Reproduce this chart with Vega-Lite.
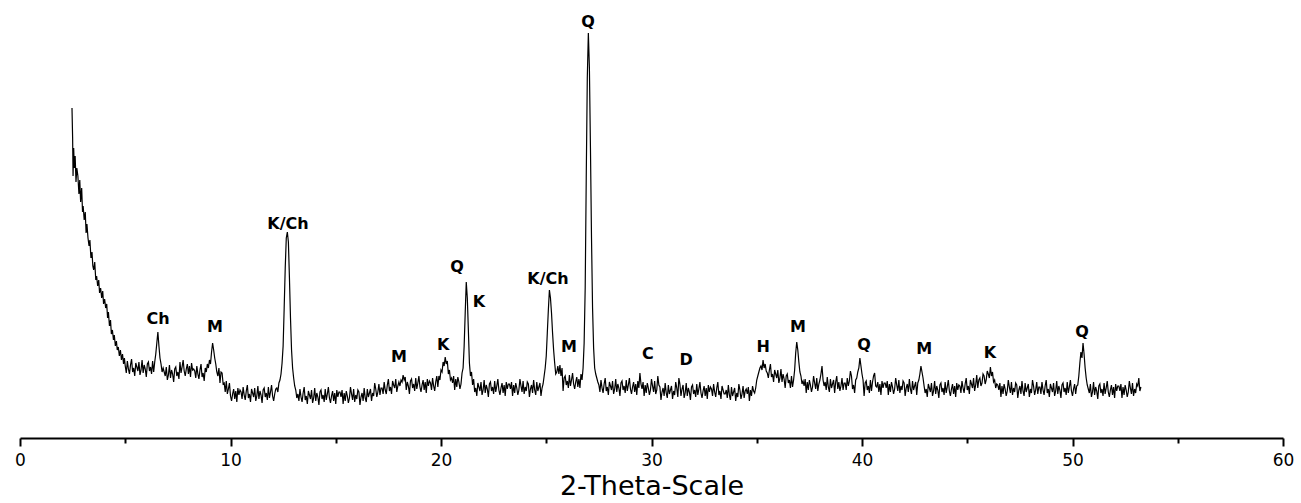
{
"$schema": "https://vega.github.io/schema/vega-lite/v6.json",
"width": 1263, "height": 438,
"autosize": {"type": "none"},
"padding": {"left": 20, "top": 0, "right": 18, "bottom": 65},
"background": "white",
"config": {"view": {"stroke": null}, "font": "DejaVu Sans"},
"datasets": {
"xrd": [
{"t":2.47,"i":330},{"t":2.5,"i":300},{"t":2.52,"i":262},{"t":2.55,"i":290},{"t":2.58,"i":270},{"t":2.62,"i":282},{"t":2.66,"i":256},{"t":2.7,"i":270},{"t":2.75,"i":262},{"t":2.8,"i":244},{"t":2.84,"i":258},{"t":2.88,"i":236},{"t":2.93,"i":250},{"t":2.97,"i":226},{"t":3.0,"i":232},{"t":3.05,"i":218},{"t":3.1,"i":226},{"t":3.14,"i":205},{"t":3.18,"i":214},{"t":3.23,"i":200},{"t":3.28,"i":192},{"t":3.32,"i":198},{"t":3.37,"i":180},{"t":3.42,"i":186},{"t":3.46,"i":172},{"t":3.5,"i":168},{"t":3.55,"i":176},{"t":3.6,"i":158},{"t":3.64,"i":162},{"t":3.69,"i":152},{"t":3.74,"i":158},{"t":3.78,"i":145},{"t":3.83,"i":150},{"t":3.88,"i":140},{"t":3.93,"i":147},{"t":3.97,"i":134},{"t":4.02,"i":139},{"t":4.07,"i":130},{"t":4.12,"i":134},{"t":4.16,"i":120},{"t":4.2,"i":126},{"t":4.25,"i":112},{"t":4.3,"i":118},{"t":4.34,"i":104},{"t":4.39,"i":108},{"t":4.44,"i":98},{"t":4.48,"i":103},{"t":4.53,"i":92},{"t":4.58,"i":97},{"t":4.62,"i":88},{"t":4.67,"i":91},{"t":4.72,"i":82},{"t":4.77,"i":88},{"t":4.82,"i":78},{"t":4.87,"i":84},{"t":4.92,"i":74},{"t":4.96,"i":80},
{"t":5.0,"i":72},{"t":5.05,"i":65},{"t":5.1,"i":77},{"t":5.15,"i":69},{"t":5.2,"i":64},{"t":5.25,"i":73},{"t":5.3,"i":79},{"t":5.35,"i":66},{"t":5.4,"i":70},{"t":5.45,"i":62},{"t":5.5,"i":75},{"t":5.55,"i":71},{"t":5.6,"i":67},{"t":5.65,"i":76},{"t":5.7,"i":63},{"t":5.75,"i":68},{"t":5.8,"i":78},{"t":5.85,"i":65},{"t":5.9,"i":73},{"t":5.95,"i":69},{"t":6.0,"i":61},{"t":6.05,"i":74},{"t":6.1,"i":76},{"t":6.15,"i":67},{"t":6.2,"i":71},{"t":6.25,"i":64},{"t":6.3,"i":77},{"t":6.35,"i":66},
{"t":6.4,"i":76},{"t":6.45,"i":84},{"t":6.5,"i":95},{"t":6.55,"i":106},{"t":6.6,"i":92},{"t":6.65,"i":80},{"t":6.7,"i":74},{"t":6.75,"i":66},
{"t":6.8,"i":70},{"t":6.85,"i":66},{"t":6.9,"i":62},{"t":6.95,"i":71},{"t":7.0,"i":58},{"t":7.05,"i":63},{"t":7.1,"i":73},{"t":7.15,"i":60},{"t":7.2,"i":68},{"t":7.25,"i":64},{"t":7.3,"i":56},{"t":7.35,"i":69},{"t":7.4,"i":71},{"t":7.45,"i":62},{"t":7.5,"i":66},{"t":7.55,"i":59},{"t":7.6,"i":76},{"t":7.65,"i":65},{"t":7.7,"i":71},{"t":7.75,"i":78},{"t":7.8,"i":67},{"t":7.85,"i":62},{"t":7.9,"i":69},{"t":7.95,"i":74},{"t":8.0,"i":64},{"t":8.05,"i":72},{"t":8.1,"i":61},{"t":8.15,"i":75},{"t":8.2,"i":68},{"t":8.25,"i":69},{"t":8.3,"i":67},{"t":8.35,"i":60},{"t":8.4,"i":72},{"t":8.45,"i":64},{"t":8.5,"i":59},{"t":8.55,"i":68},{"t":8.6,"i":74},{"t":8.65,"i":61},{"t":8.7,"i":65},{"t":8.75,"i":57},{"t":8.8,"i":70},{"t":8.85,"i":66},
{"t":8.9,"i":74},{"t":8.95,"i":70},{"t":9.0,"i":78},{"t":9.05,"i":74},{"t":9.1,"i":86},{"t":9.15,"i":95},{"t":9.2,"i":88},{"t":9.25,"i":80},{"t":9.3,"i":74},{"t":9.35,"i":66},{"t":9.4,"i":62},{"t":9.45,"i":70},
{"t":9.5,"i":55},{"t":9.55,"i":66},{"t":9.6,"i":65},{"t":9.65,"i":54},{"t":9.7,"i":55},{"t":9.75,"i":46},{"t":9.8,"i":57},{"t":9.85,"i":44},{"t":9.9,"i":49},{"t":9.95,"i":55},{"t":10.0,"i":42},{"t":10.05,"i":37},{"t":10.1,"i":44},{"t":10.15,"i":49},{"t":10.2,"i":39},{"t":10.25,"i":47},{"t":10.3,"i":36},{"t":10.35,"i":50},{"t":10.4,"i":43},{"t":10.45,"i":48},{"t":10.5,"i":46},{"t":10.55,"i":39},{"t":10.6,"i":51},{"t":10.65,"i":43},{"t":10.7,"i":38},{"t":10.75,"i":47},{"t":10.8,"i":53},{"t":10.85,"i":40},{"t":10.9,"i":44},{"t":10.95,"i":36},{"t":11.0,"i":49},{"t":11.05,"i":45},{"t":11.1,"i":41},{"t":11.15,"i":50},{"t":11.2,"i":37},{"t":11.25,"i":42},{"t":11.3,"i":52},{"t":11.35,"i":39},{"t":11.4,"i":47},{"t":11.45,"i":43},{"t":11.5,"i":35},{"t":11.55,"i":48},{"t":11.6,"i":50},{"t":11.65,"i":41},{"t":11.7,"i":45},{"t":11.75,"i":38},{"t":11.8,"i":51},{"t":11.85,"i":40},{"t":11.9,"i":46},{"t":11.95,"i":53},{"t":12.0,"i":42},{"t":12.05,"i":37},{"t":12.1,"i":44},{"t":12.15,"i":49},
{"t":12.2,"i":50},{"t":12.25,"i":46},{"t":12.3,"i":55},{"t":12.35,"i":58},{"t":12.4,"i":64},{"t":12.45,"i":75},{"t":12.5,"i":92},{"t":12.55,"i":130},{"t":12.6,"i":170},{"t":12.65,"i":200},{"t":12.7,"i":206},{"t":12.75,"i":196},{"t":12.8,"i":160},{"t":12.85,"i":120},{"t":12.9,"i":88},{"t":12.95,"i":70},{"t":13.0,"i":60},{"t":13.05,"i":52},{"t":13.1,"i":48},{"t":13.15,"i":40},
{"t":13.2,"i":44},{"t":13.25,"i":37},{"t":13.3,"i":49},{"t":13.35,"i":41},{"t":13.4,"i":36},{"t":13.45,"i":45},{"t":13.5,"i":51},{"t":13.55,"i":38},{"t":13.6,"i":42},{"t":13.65,"i":34},{"t":13.7,"i":47},{"t":13.75,"i":43},{"t":13.8,"i":39},{"t":13.85,"i":48},{"t":13.9,"i":35},{"t":13.95,"i":40},{"t":14.0,"i":50},{"t":14.05,"i":37},{"t":14.1,"i":45},{"t":14.15,"i":41},{"t":14.2,"i":33},{"t":14.25,"i":46},{"t":14.3,"i":48},{"t":14.35,"i":39},{"t":14.4,"i":43},{"t":14.45,"i":36},{"t":14.5,"i":49},{"t":14.55,"i":38},{"t":14.6,"i":44},{"t":14.65,"i":51},{"t":14.7,"i":40},{"t":14.75,"i":35},{"t":14.8,"i":42},{"t":14.85,"i":47},{"t":14.9,"i":37},{"t":14.95,"i":45},{"t":15.0,"i":34},{"t":15.05,"i":48},{"t":15.1,"i":41},{"t":15.15,"i":46},{"t":15.2,"i":46},{"t":15.25,"i":41},{"t":15.3,"i":48},{"t":15.35,"i":34},{"t":15.4,"i":45},{"t":15.45,"i":37},{"t":15.5,"i":47},{"t":15.55,"i":42},{"t":15.6,"i":35},{"t":15.65,"i":40},{"t":15.7,"i":51},{"t":15.75,"i":44},{"t":15.8,"i":38},{"t":15.85,"i":49},{"t":15.9,"i":36},{"t":15.95,"i":43},{"t":16.0,"i":39},{"t":16.05,"i":48},{"t":16.1,"i":46},{"t":16.15,"i":33},{"t":16.2,"i":41},{"t":16.25,"i":45},{"t":16.3,"i":37},{"t":16.35,"i":50},{"t":16.4,"i":40},{"t":16.45,"i":36},{"t":16.5,"i":49},{"t":16.55,"i":41},{"t":16.6,"i":45},{"t":16.65,"i":49},{"t":16.7,"i":37},{"t":16.75,"i":45},{"t":16.8,"i":42},{"t":16.85,"i":55},{"t":16.9,"i":49},{"t":16.95,"i":41},{"t":17.0,"i":46},{"t":17.05,"i":54},{"t":17.1,"i":43},{"t":17.15,"i":50},{"t":17.2,"i":50},{"t":17.25,"i":44},{"t":17.3,"i":56},{"t":17.35,"i":48},{"t":17.4,"i":44},{"t":17.45,"i":53},{"t":17.5,"i":59},{"t":17.55,"i":47},{"t":17.6,"i":51},{"t":17.65,"i":44},{"t":17.7,"i":57},{"t":17.75,"i":53},{"t":17.8,"i":50},{"t":17.85,"i":59},{"t":17.9,"i":46},{"t":17.95,"i":52},
{"t":18.0,"i":56},{"t":18.05,"i":52},{"t":18.1,"i":58},{"t":18.15,"i":56},{"t":18.2,"i":63},{"t":18.25,"i":58},
{"t":18.3,"i":61},{"t":18.35,"i":48},{"t":18.4,"i":56},{"t":18.45,"i":52},{"t":18.5,"i":44},{"t":18.55,"i":57},{"t":18.6,"i":59},{"t":18.65,"i":50},{"t":18.7,"i":54},{"t":18.75,"i":47},{"t":18.8,"i":60},{"t":18.85,"i":49},{"t":18.9,"i":55},{"t":18.95,"i":62},{"t":19.0,"i":51},{"t":19.05,"i":46},{"t":19.1,"i":53},{"t":19.15,"i":58},{"t":19.2,"i":48},{"t":19.25,"i":56},{"t":19.3,"i":45},{"t":19.35,"i":59},{"t":19.4,"i":52},{"t":19.45,"i":57},{"t":19.5,"i":55},{"t":19.55,"i":48},{"t":19.6,"i":60},{"t":19.65,"i":52},{"t":19.7,"i":47},{"t":19.75,"i":56},{"t":19.8,"i":62},{"t":19.85,"i":51},
{"t":19.9,"i":62},{"t":19.95,"i":58},{"t":20.0,"i":68},{"t":20.05,"i":66},{"t":20.1,"i":76},{"t":20.15,"i":72},{"t":20.2,"i":81},{"t":20.25,"i":74},{"t":20.3,"i":77},{"t":20.35,"i":64},{"t":20.4,"i":68},{"t":20.45,"i":58},
{"t":20.5,"i":60},{"t":20.55,"i":55},{"t":20.6,"i":62},{"t":20.65,"i":48},{"t":20.7,"i":59},{"t":20.75,"i":51},{"t":20.8,"i":61},{"t":20.85,"i":56},{"t":20.9,"i":49},{"t":20.95,"i":54},{"t":21.0,"i":65},
{"t":21.05,"i":70},{"t":21.1,"i":92},{"t":21.15,"i":125},{"t":21.2,"i":156},{"t":21.25,"i":140},{"t":21.3,"i":108},{"t":21.35,"i":75},{"t":21.4,"i":62},{"t":21.45,"i":66},
{"t":21.5,"i":53},{"t":21.55,"i":59},{"t":21.6,"i":46},{"t":21.65,"i":50},{"t":21.7,"i":42},{"t":21.75,"i":55},{"t":21.8,"i":51},{"t":21.85,"i":47},{"t":21.9,"i":56},{"t":21.95,"i":43},{"t":22.0,"i":48},{"t":22.05,"i":58},{"t":22.1,"i":45},{"t":22.15,"i":53},{"t":22.2,"i":49},{"t":22.25,"i":41},{"t":22.3,"i":54},{"t":22.35,"i":56},{"t":22.4,"i":47},{"t":22.45,"i":51},{"t":22.5,"i":44},{"t":22.55,"i":57},{"t":22.6,"i":46},{"t":22.65,"i":52},{"t":22.7,"i":59},{"t":22.75,"i":48},{"t":22.8,"i":43},{"t":22.85,"i":50},{"t":22.9,"i":55},{"t":22.95,"i":45},{"t":23.0,"i":53},{"t":23.05,"i":42},{"t":23.1,"i":56},{"t":23.15,"i":49},{"t":23.2,"i":54},{"t":23.25,"i":54},{"t":23.3,"i":49},{"t":23.35,"i":56},{"t":23.4,"i":42},{"t":23.45,"i":53},{"t":23.5,"i":45},{"t":23.55,"i":55},{"t":23.6,"i":50},{"t":23.65,"i":43},{"t":23.7,"i":48},{"t":23.75,"i":59},{"t":23.8,"i":52},{"t":23.85,"i":46},{"t":23.9,"i":57},{"t":23.95,"i":44},{"t":24.0,"i":51},{"t":24.05,"i":47},{"t":24.1,"i":56},{"t":24.15,"i":54},{"t":24.2,"i":41},{"t":24.25,"i":49},{"t":24.3,"i":53},{"t":24.35,"i":45},{"t":24.4,"i":58},{"t":24.45,"i":48},{"t":24.5,"i":43},{"t":24.55,"i":56},{"t":24.6,"i":47},{"t":24.65,"i":51},{"t":24.7,"i":55},{"t":24.75,"i":42},{"t":24.8,"i":50},{"t":24.85,"i":54},
{"t":24.9,"i":62},{"t":24.95,"i":70},{"t":25.0,"i":82},{"t":25.05,"i":105},{"t":25.1,"i":128},{"t":25.15,"i":148},{"t":25.2,"i":140},{"t":25.25,"i":125},{"t":25.3,"i":105},{"t":25.35,"i":88},{"t":25.4,"i":75},{"t":25.45,"i":64},{"t":25.5,"i":66},{"t":25.55,"i":72},{"t":25.6,"i":64},{"t":25.65,"i":73},{"t":25.7,"i":62},{"t":25.75,"i":70},
{"t":25.8,"i":47},{"t":25.85,"i":60},{"t":25.9,"i":62},{"t":25.95,"i":53},{"t":26.0,"i":57},{"t":26.05,"i":50},{"t":26.1,"i":63},{"t":26.15,"i":52},{"t":26.2,"i":58},{"t":26.25,"i":65},{"t":26.3,"i":54},{"t":26.35,"i":49},{"t":26.4,"i":56},{"t":26.45,"i":61},{"t":26.5,"i":51},{"t":26.55,"i":59},{"t":26.6,"i":50},{"t":26.65,"i":64},{"t":26.7,"i":58},
{"t":26.75,"i":70},{"t":26.8,"i":95},{"t":26.85,"i":150},{"t":26.9,"i":260},{"t":26.95,"i":360},{"t":27.0,"i":405},{"t":27.05,"i":370},{"t":27.1,"i":290},{"t":27.15,"i":200},{"t":27.2,"i":130},{"t":27.25,"i":90},{"t":27.3,"i":70},{"t":27.35,"i":64},{"t":27.4,"i":60},{"t":27.45,"i":56},
{"t":27.5,"i":53},{"t":27.55,"i":46},{"t":27.6,"i":58},{"t":27.65,"i":50},{"t":27.7,"i":45},{"t":27.75,"i":54},{"t":27.8,"i":60},{"t":27.85,"i":47},{"t":27.9,"i":51},{"t":27.95,"i":43},{"t":28.0,"i":56},{"t":28.05,"i":52},{"t":28.1,"i":48},{"t":28.15,"i":57},{"t":28.2,"i":44},{"t":28.25,"i":49},{"t":28.3,"i":59},{"t":28.35,"i":46},{"t":28.4,"i":54},{"t":28.45,"i":50},{"t":28.5,"i":42},{"t":28.55,"i":55},{"t":28.6,"i":57},{"t":28.65,"i":48},{"t":28.7,"i":52},{"t":28.75,"i":45},{"t":28.8,"i":58},{"t":28.85,"i":47},{"t":28.9,"i":53},{"t":28.95,"i":60},{"t":29.0,"i":49},{"t":29.05,"i":44},{"t":29.1,"i":51},{"t":29.15,"i":56},{"t":29.2,"i":46},{"t":29.25,"i":54},{"t":29.3,"i":43},{"t":29.35,"i":57},{"t":29.4,"i":50},{"t":29.45,"i":65},
{"t":29.5,"i":54},{"t":29.55,"i":49},{"t":29.6,"i":56},{"t":29.65,"i":42},{"t":29.7,"i":53},{"t":29.75,"i":45},{"t":29.8,"i":55},{"t":29.85,"i":50},{"t":29.9,"i":43},{"t":29.95,"i":48},{"t":30.0,"i":59},{"t":30.05,"i":52},{"t":30.1,"i":46},{"t":30.15,"i":57},{"t":30.2,"i":44},{"t":30.25,"i":48},{"t":30.3,"i":62},{"t":30.35,"i":53},{"t":30.4,"i":51},{"t":30.45,"i":38},{"t":30.5,"i":46},{"t":30.55,"i":50},{"t":30.6,"i":42},{"t":30.65,"i":55},{"t":30.7,"i":45},{"t":30.75,"i":40},{"t":30.8,"i":53},{"t":30.85,"i":44},{"t":30.9,"i":48},{"t":30.95,"i":52},{"t":31.0,"i":39},{"t":31.05,"i":47},{"t":31.1,"i":43},{"t":31.15,"i":56},{"t":31.2,"i":50},{"t":31.25,"i":41},{"t":31.3,"i":60},{"t":31.35,"i":54},{"t":31.4,"i":42},{"t":31.45,"i":49},
{"t":31.5,"i":53},{"t":31.55,"i":40},{"t":31.6,"i":45},{"t":31.65,"i":55},{"t":31.7,"i":42},{"t":31.75,"i":50},{"t":31.8,"i":46},{"t":31.85,"i":38},{"t":31.9,"i":51},{"t":31.95,"i":53},{"t":32.0,"i":44},{"t":32.05,"i":48},{"t":32.1,"i":41},{"t":32.15,"i":54},{"t":32.2,"i":43},{"t":32.25,"i":49},{"t":32.3,"i":56},{"t":32.35,"i":45},{"t":32.4,"i":40},{"t":32.45,"i":47},{"t":32.5,"i":52},{"t":32.55,"i":42},{"t":32.6,"i":50},{"t":32.65,"i":39},{"t":32.7,"i":53},{"t":32.75,"i":46},{"t":32.8,"i":51},{"t":32.85,"i":49},{"t":32.9,"i":42},{"t":32.95,"i":54},{"t":33.0,"i":46},{"t":33.05,"i":41},{"t":33.1,"i":50},{"t":33.15,"i":56},{"t":33.2,"i":43},{"t":33.25,"i":47},{"t":33.3,"i":39},{"t":33.35,"i":52},{"t":33.4,"i":48},{"t":33.45,"i":44},
{"t":33.5,"i":44},{"t":33.55,"i":48},{"t":33.6,"i":40},{"t":33.65,"i":53},{"t":33.7,"i":43},{"t":33.75,"i":38},{"t":33.8,"i":51},{"t":33.85,"i":42},{"t":33.9,"i":46},{"t":33.95,"i":50},{"t":34.0,"i":37},{"t":34.05,"i":45},{"t":34.1,"i":41},{"t":34.15,"i":54},{"t":34.2,"i":48},{"t":34.25,"i":39},{"t":34.3,"i":44},{"t":34.35,"i":52},{"t":34.4,"i":40},{"t":34.45,"i":47},{"t":34.5,"i":49},{"t":34.55,"i":44},{"t":34.6,"i":51},{"t":34.65,"i":37},{"t":34.7,"i":48},{"t":34.75,"i":42},{"t":34.8,"i":52},{"t":34.85,"i":47},{"t":34.9,"i":45},
{"t":34.95,"i":50},{"t":35.0,"i":58},{"t":35.05,"i":62},{"t":35.1,"i":66},{"t":35.15,"i":70},{"t":35.2,"i":72},{"t":35.25,"i":68},{"t":35.3,"i":78},{"t":35.35,"i":70},{"t":35.4,"i":74},{"t":35.45,"i":67},
{"t":35.5,"i":65},{"t":35.55,"i":60},{"t":35.6,"i":68},{"t":35.65,"i":74},{"t":35.7,"i":61},{"t":35.75,"i":64},{"t":35.8,"i":56},{"t":35.85,"i":68},{"t":35.9,"i":64},{"t":35.95,"i":60},{"t":36.0,"i":68},{"t":36.05,"i":55},{"t":36.1,"i":60},{"t":36.15,"i":69},{"t":36.2,"i":56},{"t":36.25,"i":64},{"t":36.3,"i":59},{"t":36.35,"i":50},{"t":36.4,"i":62},{"t":36.45,"i":64},{"t":36.5,"i":55},{"t":36.55,"i":58},{"t":36.6,"i":50},{"t":36.65,"i":62},{"t":36.7,"i":51},{"t":36.75,"i":58},
{"t":36.8,"i":68},{"t":36.85,"i":85},{"t":36.9,"i":96},{"t":36.95,"i":88},{"t":37.0,"i":76},{"t":37.05,"i":66},{"t":37.1,"i":62},{"t":37.15,"i":54},
{"t":37.2,"i":57},{"t":37.25,"i":52},{"t":37.3,"i":59},{"t":37.35,"i":45},{"t":37.4,"i":56},{"t":37.45,"i":48},{"t":37.5,"i":58},{"t":37.55,"i":53},{"t":37.6,"i":46},{"t":37.65,"i":51},{"t":37.7,"i":62},{"t":37.75,"i":55},{"t":37.8,"i":49},{"t":37.85,"i":60},{"t":37.9,"i":47},{"t":37.95,"i":54},{"t":38.0,"i":58},{"t":38.05,"i":64},{"t":38.1,"i":72},{"t":38.15,"i":58},{"t":38.2,"i":52},{"t":38.25,"i":56},{"t":38.3,"i":48},{"t":38.35,"i":61},{"t":38.4,"i":51},{"t":38.45,"i":46},{"t":38.5,"i":59},{"t":38.55,"i":50},{"t":38.6,"i":54},{"t":38.65,"i":58},{"t":38.7,"i":45},{"t":38.75,"i":56},{"t":38.8,"i":62},{"t":38.85,"i":49},{"t":38.9,"i":56},{"t":38.95,"i":47},{"t":39.0,"i":52},{"t":39.05,"i":60},{"t":39.1,"i":48},{"t":39.15,"i":55},{"t":39.2,"i":55},{"t":39.25,"i":48},{"t":39.3,"i":60},{"t":39.35,"i":52},{"t":39.4,"i":57},{"t":39.45,"i":67},{"t":39.5,"i":62},{"t":39.55,"i":49},{"t":39.6,"i":53},{"t":39.65,"i":45},{"t":39.7,"i":58},{"t":39.75,"i":60},
{"t":39.8,"i":66},{"t":39.85,"i":70},{"t":39.9,"i":80},{"t":39.95,"i":72},{"t":40.0,"i":64},{"t":40.05,"i":58},
{"t":40.1,"i":42},{"t":40.15,"i":55},{"t":40.2,"i":57},{"t":40.25,"i":48},{"t":40.3,"i":52},{"t":40.35,"i":45},{"t":40.4,"i":58},{"t":40.45,"i":47},{"t":40.5,"i":56},{"t":40.55,"i":62},{"t":40.6,"i":65},{"t":40.65,"i":52},{"t":40.7,"i":51},{"t":40.75,"i":56},{"t":40.8,"i":46},{"t":40.85,"i":54},{"t":40.9,"i":43},{"t":40.95,"i":57},{"t":41.0,"i":50},{"t":41.05,"i":55},{"t":41.1,"i":55},{"t":41.15,"i":50},{"t":41.2,"i":57},{"t":41.25,"i":43},{"t":41.3,"i":54},{"t":41.35,"i":46},{"t":41.4,"i":56},{"t":41.45,"i":51},{"t":41.5,"i":44},{"t":41.55,"i":49},{"t":41.6,"i":60},{"t":41.65,"i":53},{"t":41.7,"i":47},{"t":41.75,"i":58},{"t":41.8,"i":45},{"t":41.85,"i":52},{"t":41.9,"i":48},{"t":41.95,"i":57},{"t":42.0,"i":55},{"t":42.05,"i":42},{"t":42.1,"i":50},{"t":42.15,"i":54},{"t":42.2,"i":46},{"t":42.25,"i":59},{"t":42.3,"i":49},{"t":42.35,"i":44},{"t":42.4,"i":57},{"t":42.45,"i":48},{"t":42.5,"i":52},{"t":42.55,"i":56},{"t":42.6,"i":43},{"t":42.65,"i":55},
{"t":42.7,"i":58},{"t":42.75,"i":64},{"t":42.8,"i":72},{"t":42.85,"i":66},{"t":42.9,"i":60},{"t":42.95,"i":52},
{"t":43.0,"i":45},{"t":43.05,"i":49},{"t":43.1,"i":41},{"t":43.15,"i":54},{"t":43.2,"i":50},{"t":43.25,"i":46},{"t":43.3,"i":55},{"t":43.35,"i":42},{"t":43.4,"i":47},{"t":43.45,"i":57},{"t":43.5,"i":44},{"t":43.55,"i":52},{"t":43.6,"i":48},{"t":43.65,"i":40},{"t":43.7,"i":53},{"t":43.75,"i":55},{"t":43.8,"i":46},{"t":43.85,"i":50},{"t":43.9,"i":43},{"t":43.95,"i":56},{"t":44.0,"i":45},{"t":44.05,"i":51},{"t":44.1,"i":58},{"t":44.15,"i":47},{"t":44.2,"i":42},{"t":44.25,"i":49},{"t":44.3,"i":54},{"t":44.35,"i":44},{"t":44.4,"i":52},{"t":44.45,"i":41},{"t":44.5,"i":55},{"t":44.55,"i":48},{"t":44.6,"i":53},{"t":44.65,"i":52},{"t":44.7,"i":45},{"t":44.75,"i":57},{"t":44.8,"i":50},{"t":44.85,"i":45},{"t":44.9,"i":54},{"t":44.95,"i":60},{"t":45.0,"i":48},{"t":45.05,"i":52},{"t":45.1,"i":44},{"t":45.15,"i":58},{"t":45.2,"i":54},{"t":45.25,"i":50},{"t":45.3,"i":60},{"t":45.35,"i":47},{"t":45.4,"i":53},{"t":45.45,"i":63},{"t":45.5,"i":50},{"t":45.55,"i":58},
{"t":45.6,"i":60},{"t":45.65,"i":52},{"t":45.7,"i":55},{"t":45.75,"i":64},{"t":45.8,"i":62},{"t":45.85,"i":54},{"t":45.9,"i":58},{"t":45.95,"i":67},{"t":46.0,"i":64},{"t":46.05,"i":60},{"t":46.1,"i":71},{"t":46.15,"i":62},{"t":46.2,"i":66},{"t":46.25,"i":56},{"t":46.3,"i":58},{"t":46.35,"i":50},{"t":46.4,"i":54},
{"t":46.45,"i":53},{"t":46.5,"i":48},{"t":46.55,"i":55},{"t":46.6,"i":41},{"t":46.65,"i":52},{"t":46.7,"i":44},{"t":46.75,"i":54},{"t":46.8,"i":49},{"t":46.85,"i":42},{"t":46.9,"i":47},{"t":46.95,"i":58},{"t":47.0,"i":51},{"t":47.05,"i":45},{"t":47.1,"i":56},{"t":47.15,"i":43},{"t":47.2,"i":50},{"t":47.25,"i":46},{"t":47.3,"i":55},{"t":47.35,"i":53},{"t":47.4,"i":40},{"t":47.45,"i":48},{"t":47.5,"i":52},{"t":47.55,"i":44},{"t":47.6,"i":57},{"t":47.65,"i":47},{"t":47.7,"i":42},{"t":47.75,"i":55},{"t":47.8,"i":46},{"t":47.85,"i":50},{"t":47.9,"i":54},{"t":47.95,"i":41},{"t":48.0,"i":49},{"t":48.05,"i":45},{"t":48.1,"i":58},{"t":48.15,"i":52},{"t":48.2,"i":43},{"t":48.25,"i":48},{"t":48.3,"i":56},{"t":48.35,"i":44},{"t":48.4,"i":51},{"t":48.45,"i":51},{"t":48.5,"i":44},{"t":48.55,"i":56},{"t":48.6,"i":48},{"t":48.65,"i":43},{"t":48.7,"i":52},{"t":48.75,"i":58},{"t":48.8,"i":45},{"t":48.85,"i":49},{"t":48.9,"i":41},{"t":48.95,"i":54},{"t":49.0,"i":50},{"t":49.05,"i":46},{"t":49.1,"i":55},{"t":49.15,"i":42},{"t":49.2,"i":47},{"t":49.25,"i":57},{"t":49.3,"i":44},{"t":49.35,"i":52},{"t":49.4,"i":48},{"t":49.45,"i":40},{"t":49.5,"i":53},{"t":49.55,"i":55},{"t":49.6,"i":46},{"t":49.65,"i":50},{"t":49.7,"i":43},{"t":49.75,"i":56},{"t":49.8,"i":45},{"t":49.85,"i":51},{"t":49.9,"i":58},{"t":49.95,"i":47},{"t":50.0,"i":42},{"t":50.05,"i":49},{"t":50.1,"i":54},{"t":50.15,"i":44},{"t":50.2,"i":52},{"t":50.25,"i":53},
{"t":50.3,"i":62},{"t":50.35,"i":75},{"t":50.4,"i":86},{"t":50.45,"i":80},{"t":50.5,"i":95},{"t":50.55,"i":84},{"t":50.6,"i":70},{"t":50.65,"i":60},
{"t":50.7,"i":53},{"t":50.75,"i":49},{"t":50.8,"i":45},{"t":50.85,"i":54},{"t":50.9,"i":41},{"t":50.95,"i":46},{"t":51.0,"i":56},{"t":51.05,"i":43},{"t":51.1,"i":51},{"t":51.15,"i":47},{"t":51.2,"i":39},{"t":51.25,"i":52},{"t":51.3,"i":54},{"t":51.35,"i":45},{"t":51.4,"i":49},{"t":51.45,"i":42},{"t":51.5,"i":55},{"t":51.55,"i":44},{"t":51.6,"i":50},{"t":51.65,"i":57},{"t":51.7,"i":46},{"t":51.75,"i":41},{"t":51.8,"i":48},{"t":51.85,"i":53},{"t":51.9,"i":43},{"t":51.95,"i":51},{"t":52.0,"i":40},{"t":52.05,"i":54},{"t":52.1,"i":47},{"t":52.15,"i":52},{"t":52.2,"i":52},{"t":52.25,"i":47},{"t":52.3,"i":54},{"t":52.35,"i":40},{"t":52.4,"i":51},{"t":52.45,"i":43},{"t":52.5,"i":53},{"t":52.55,"i":48},{"t":52.6,"i":41},{"t":52.65,"i":46},{"t":52.7,"i":57},{"t":52.75,"i":50},{"t":52.8,"i":44},{"t":52.85,"i":55},{"t":52.9,"i":42},{"t":52.95,"i":49},{"t":53.0,"i":45},{"t":53.05,"i":54},{"t":53.1,"i":52},{"t":53.15,"i":60},{"t":53.2,"i":47},{"t":53.25,"i":51}
],
"labels": [
{"t":6.56,"i":119,"phase":"Ch"},{"t":9.26,"i":111,"phase":"M"},{"t":12.73,"i":214,"phase":"K/Ch"},{"t":18.0,"i":81,"phase":"M"},{"t":20.1,"i":93,"phase":"K"},{"t":20.76,"i":171,"phase":"Q"},{"t":21.8,"i":136,"phase":"K"},{"t":25.08,"i":159,"phase":"K/Ch"},{"t":26.08,"i":91,"phase":"M"},{"t":26.98,"i":416,"phase":"Q"},{"t":29.83,"i":84,"phase":"C"},{"t":31.64,"i":78,"phase":"D"},{"t":35.3,"i":91,"phase":"H"},{"t":36.96,"i":111,"phase":"M"},{"t":40.1,"i":93,"phase":"Q"},{"t":42.95,"i":89,"phase":"M"},{"t":46.08,"i":85,"phase":"K"},{"t":50.45,"i":106,"phase":"Q"}
]
},
"layer": [
{
"data": {"name": "xrd"},
"mark": {"type": "line", "color": "black", "strokeWidth": 1.2},
"encoding": {
"x": {"field": "t", "type": "quantitative", "scale": {"domain": [0, 60], "nice": false, "zero": false},
"axis": {"orient": "bottom", "values": [0,10,20,30,40,50,60], "title": "2-Theta-Scale", "domainColor": "black", "domainWidth": 2, "tickColor": "black", "tickWidth": 2, "tickSize": 8, "labelFontSize": 17, "labelColor": "black", "labelPadding": 6, "labelFont": "DejaVu Sans", "titleFont": "DejaVu Sans", "titleFontSize": 27, "titleFontWeight": "normal", "titleColor": "black", "titlePadding": 5, "grid": false, "labelFlush": false}},
"y": {"field": "i", "type": "quantitative", "scale": {"domain": [0, 438], "nice": false, "zero": false}, "axis": null}
}
},
{
"data": {"name": "labels"},
"mark": {"type": "text", "font": "DejaVu Sans", "fontWeight": "bold", "fontSize": 16, "color": "black", "align": "center", "baseline": "middle"},
"encoding": {
"x": {"field": "t", "type": "quantitative", "axis": {"orient": "bottom", "values": [5,15,25,35,45,55], "labels": false, "domain": false, "title": null, "tickColor": "black", "tickWidth": 2, "tickSize": 5, "grid": false}},
"y": {"field": "i", "type": "quantitative"},
"text": {"field": "phase", "type": "nominal"}
}
}
],
"resolve": {"axis": {"x": "independent"}}
}
